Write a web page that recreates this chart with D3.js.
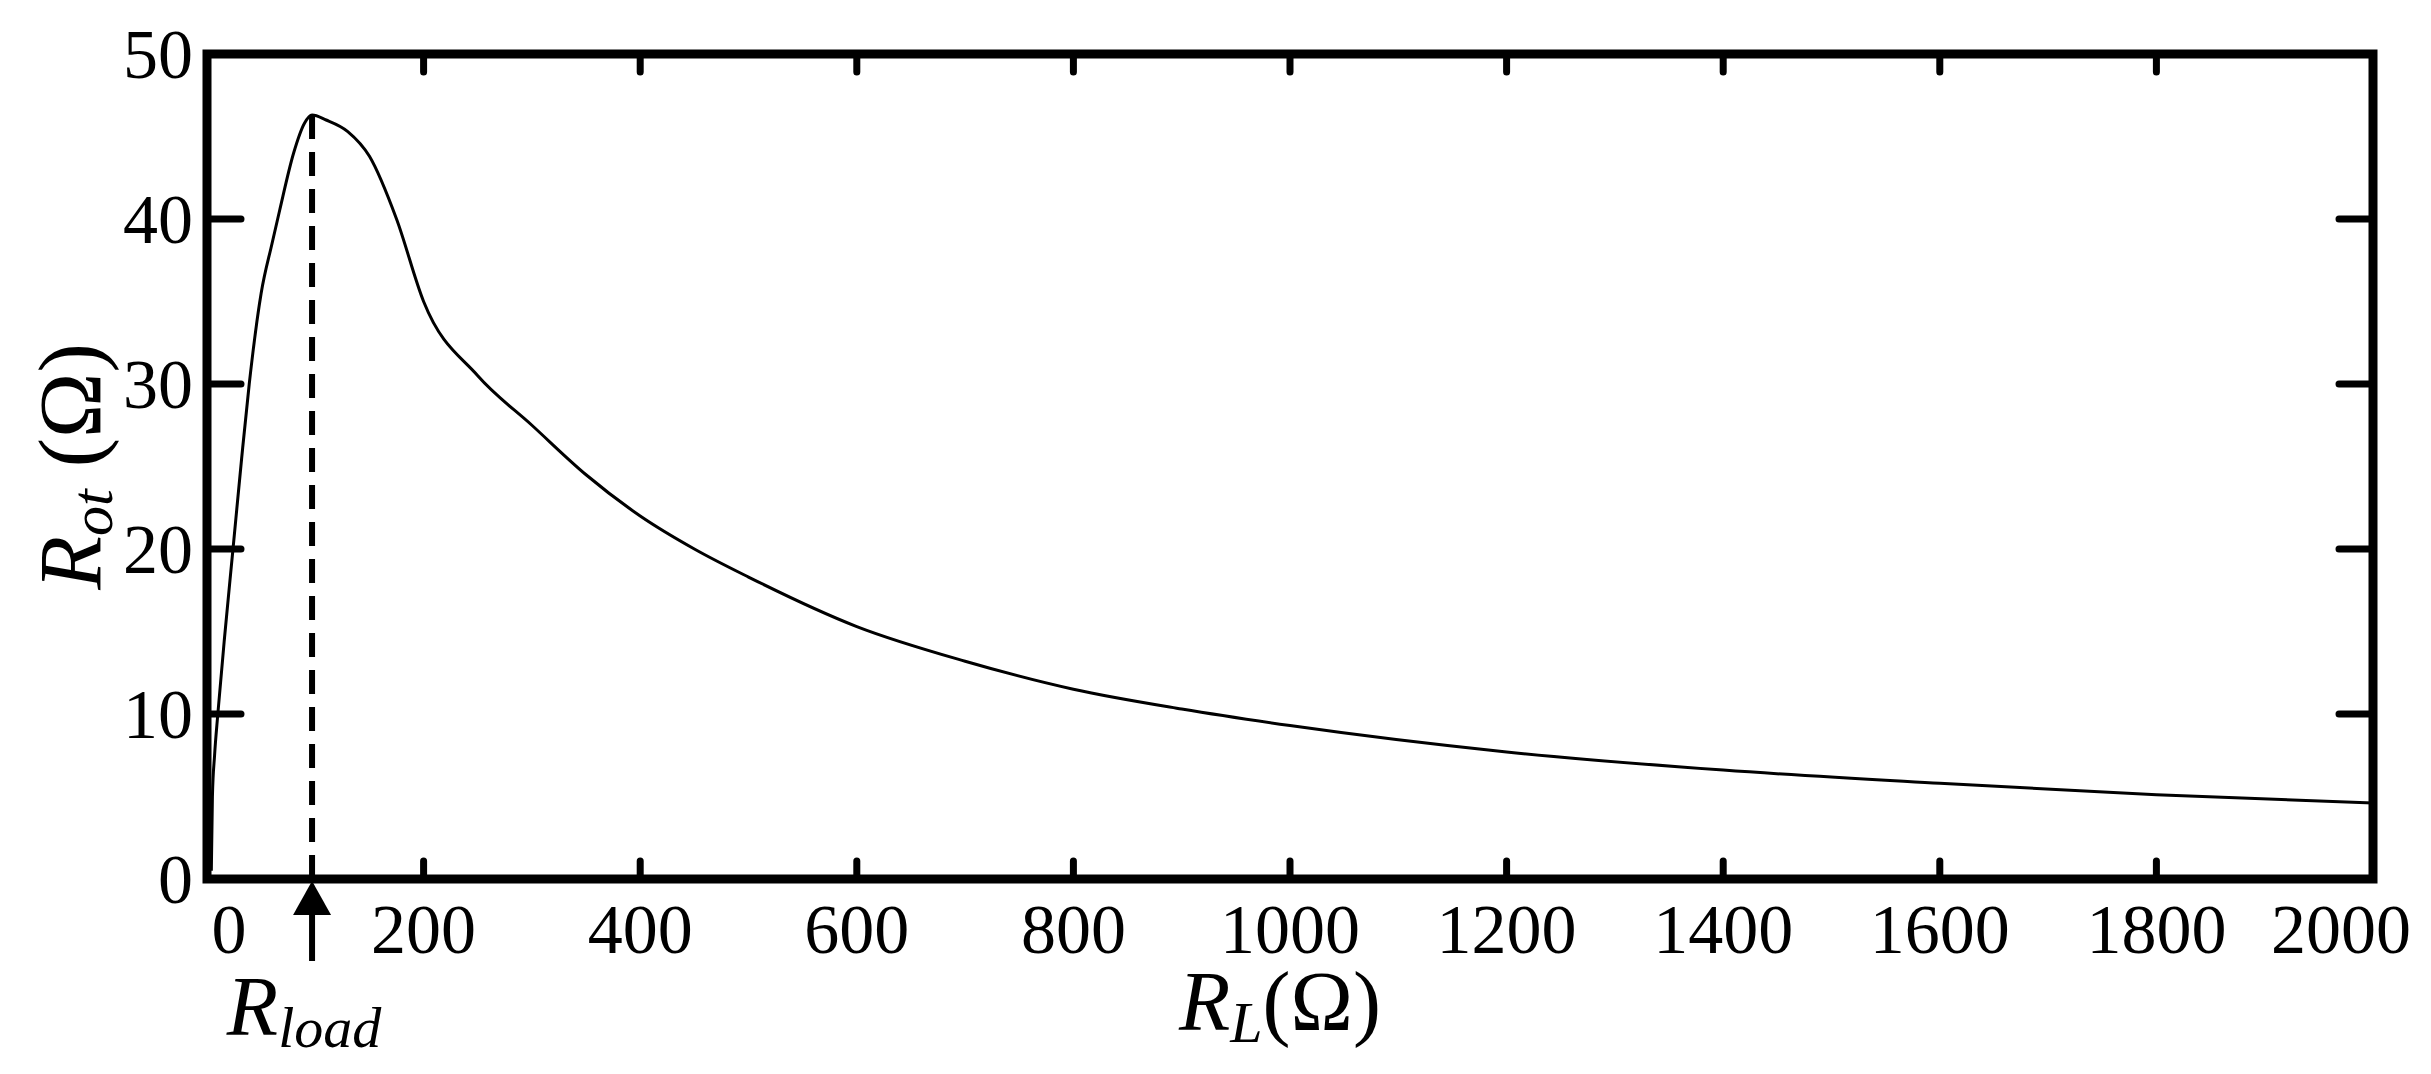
<!DOCTYPE html>
<html><head><meta charset="utf-8">
<script src="https://cdn.jsdelivr.net/npm/d3@7"></script>
<style>body{margin:0;background:#fff}text{font-family:"Liberation Serif","Times New Roman",serif}</style>
</head><body><svg id="c" width="2431" height="1074"></svg>
<script>
// values
var rl = [4, 5, 7, 10, 16, 24, 32, 39, 50, 60, 67, 80, 90, 97, 110, 130, 150, 175, 200, 250, 300, 350, 400, 450, 500, 600, 700, 800, 900, 1000, 1200, 1400, 1600, 1800, 2000];
var rot = [0.5, 5, 7.5, 10, 14.5, 20, 25.5, 30, 35.5, 38.5, 40.5, 44, 45.8, 46.3, 46, 45.3, 43.8, 40, 35, 30.5, 27.5, 24.5, 22, 20, 18.3, 15.3, 13.2, 11.5, 10.3, 9.3, 7.7, 6.6, 5.8, 5.1, 4.6];
var xTicks = [0, 200, 400, 600, 800, 1000, 1200, 1400, 1600, 1800, 2000];
var yTicks = [0, 10, 20, 30, 40, 50];
var rLoad = 97, rLoadPeak = 46.3;

var svg = d3.select("#c"),
    L = 207, R = 2373, T = 54, B = 879;
var x = d3.scaleLinear().domain([0, 2000]).range([L, R]);
var y = d3.scaleLinear().domain([0, 50]).range([B, T]);
var g = svg.append("g");

// ticks on all four sides, pointing in
g.selectAll(".yt").data(yTicks.slice(1, 5)).enter().append("path")
  .attr("d", function(d) { return "M" + L + "," + y(d) + "h34M" + R + "," + y(d) + "h-34"; })
  .attr("stroke", "#000").attr("stroke-width", 7).attr("stroke-linecap", "round");
g.selectAll(".xt").data(xTicks.slice(1, 10)).enter().append("path")
  .attr("d", function(d) { return "M" + x(d) + "," + B + "v-18M" + x(d) + "," + T + "v18"; })
  .attr("stroke", "#000").attr("stroke-width", 7).attr("stroke-linecap", "round");

g.append("rect").attr("x", L).attr("y", T).attr("width", R - L).attr("height", B - T)
  .attr("fill", "none").attr("stroke", "#000").attr("stroke-width", 9);

// curve
g.append("path").datum(d3.zip(rl, rot))
  .attr("d", d3.line().x(function(d) { return x(d[0]); }).y(function(d) { return y(d[1]); }).curve(d3.curveMonotoneX))
  .attr("fill", "none").attr("stroke", "#000").attr("stroke-width", 3);

// R_load marker
g.append("line").attr("x1", x(rLoad)).attr("x2", x(rLoad)).attr("y1", y(rLoadPeak)).attr("y2", B)
  .attr("stroke", "#000").attr("stroke-width", 6).attr("stroke-dasharray", "24,13");
g.append("line").attr("x1", x(rLoad)).attr("x2", x(rLoad)).attr("y1", B + 30).attr("y2", B + 82)
  .attr("stroke", "#000").attr("stroke-width", 6);
g.append("path").attr("d", "M" + x(rLoad) + "," + (B + 2) + "l-19,34h38z").attr("fill", "#000");

// tick labels
g.selectAll(".xl").data(xTicks).enter().append("text")
  .attr("x", function(d) { return d === 0 ? x(d) + 22 : d === 2000 ? x(d) - 32 : x(d); }).attr("y", B + 74)
  .attr("text-anchor", "middle").attr("font-size", 70).text(String);
g.selectAll(".yl").data(yTicks).enter().append("text")
  .attr("x", L - 14).attr("y", function(d) { return y(d) + 24; })
  .attr("text-anchor", "end").attr("font-size", 70).text(String);

// titles
var xt = g.append("text").attr("x", 1280).attr("y", 1030).attr("text-anchor", "middle").attr("font-size", 84);
xt.append("tspan").attr("font-style", "italic").text("R");
xt.append("tspan").attr("font-style", "italic").attr("font-size", 58).attr("dy", 12).text("L");
xt.append("tspan").attr("dy", -12).text("(Ω)");

var rt = g.append("text").attr("x", x(rLoad) - 8).attr("y", 1035).attr("text-anchor", "middle").attr("font-size", 84);
rt.append("tspan").attr("font-style", "italic").text("R");
rt.append("tspan").attr("font-style", "italic").attr("font-size", 58).attr("dy", 12).text("load");

var yt = g.append("text").attr("transform", "translate(100," + ((T + B) / 2) + ") rotate(-90)")
  .attr("text-anchor", "middle").attr("font-size", 88);
yt.append("tspan").attr("font-style", "italic").text("R");
yt.append("tspan").attr("font-style", "italic").attr("font-size", 60).attr("dy", 12).text("ot");
yt.append("tspan").attr("dy", -12).text(" (Ω)");
</script></body></html>
